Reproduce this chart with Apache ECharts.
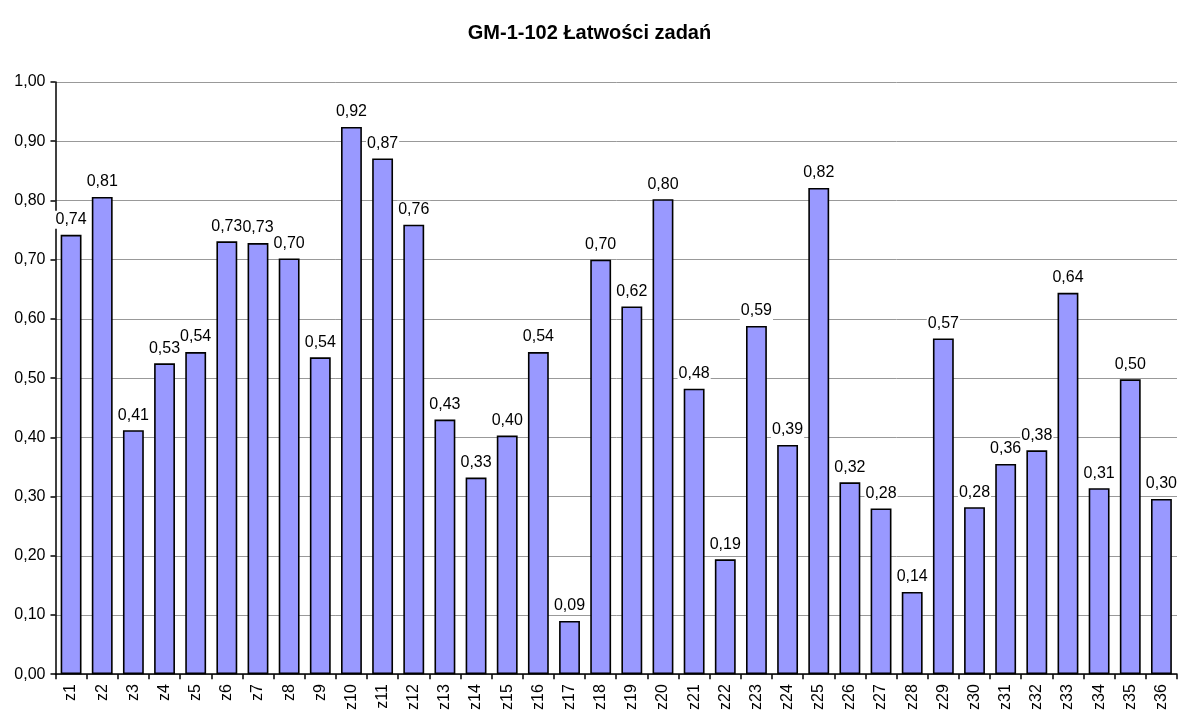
<!DOCTYPE html>
<html>
<head>
<meta charset="utf-8">
<script src="https://cdn.jsdelivr.net/npm/echarts@6/dist/echarts.min.js"></script>
<style>
    html, body { margin: 0; padding: 0; background: #fff; }
    #main { width: 1179px; height: 713px; }
</style>
</head>
<body>
<div id="main"></div>
<script>
// kategorie i łatwości zadań
var zadania = ['z1','z2','z3','z4','z5','z6','z7','z8','z9','z10','z11','z12',
    'z13','z14','z15','z16','z17','z18','z19','z20','z21','z22','z23','z24',
    'z25','z26','z27','z28','z29','z30','z31','z32','z33','z34','z35','z36'];
var latwosci = [0.742, 0.806, 0.412, 0.525, 0.544, 0.731, 0.728, 0.702, 0.535, 0.924, 0.871, 0.759,
    0.430, 0.332, 0.403, 0.544, 0.090, 0.700, 0.621, 0.802, 0.482, 0.194, 0.588, 0.387,
    0.821, 0.324, 0.280, 0.139, 0.567, 0.282, 0.355, 0.378, 0.644, 0.314, 0.498, 0.296];
var yTicks = [0, 0.1, 0.2, 0.3, 0.4, 0.5, 0.6, 0.7, 0.8, 0.9, 1.0];

function pl(v) {
    return (Math.round(v * 100) / 100).toFixed(2).replace('.', ',');
}

var myChart = echarts.init(document.getElementById('main'));
var option = {
    animation: false,
    title: {
        text: 'GM-1-102 Łatwości zadań',
        left: 'center',
        top: 18,
        textStyle: {
            fontFamily: 'Liberation Sans',
            fontSize: 20,
            fontWeight: 'bold',
            color: '#000'
        }
    },
    grid: {
        left: 55.5,
        right: 2,
        top: 82,
        bottom: 36
    },
    xAxis: {
        type: 'category',
        data: zadania,
        axisLine: { lineStyle: { color: '#000', width: 1.5 } },
        axisTick: { show: true, length: 5, lineStyle: { color: '#000', width: 1.5 } },
        axisLabel: {
            rotate: 90,
            margin: 10,
            fontFamily: 'Liberation Sans',
            fontSize: 16,
            color: '#000'
        }
    },
    yAxis: {
        type: 'value',
        min: yTicks[0],
        max: yTicks[yTicks.length - 1],
        interval: 0.1,
        axisLine: { show: true, lineStyle: { color: '#000', width: 1.5 } },
        axisTick: { show: true, length: 5, lineStyle: { color: '#000', width: 1.5 } },
        axisLabel: {
            margin: 10,
            fontFamily: 'Liberation Sans',
            fontSize: 16,
            color: '#000',
            formatter: function (v) { return pl(v); }
        },
        splitLine: { show: true, lineStyle: { color: '#999', width: 1 } }
    },
    series: [
        {
            type: 'bar',
            data: latwosci,
            barCategoryGap: '33%',
            itemStyle: {
                color: '#9999ff',
                borderColor: '#000',
                borderWidth: 1.6
            },
            label: {
                show: true,
                position: 'top',
                distance: 6,
                backgroundColor: '#fff',
                padding: [1, 1],
                fontFamily: 'Liberation Sans',
                fontSize: 16,
                color: '#000',
                formatter: function (p) { return pl(p.value); }
            }
        }
    ]
};
myChart.setOption(option);
</script>
</body>
</html>
